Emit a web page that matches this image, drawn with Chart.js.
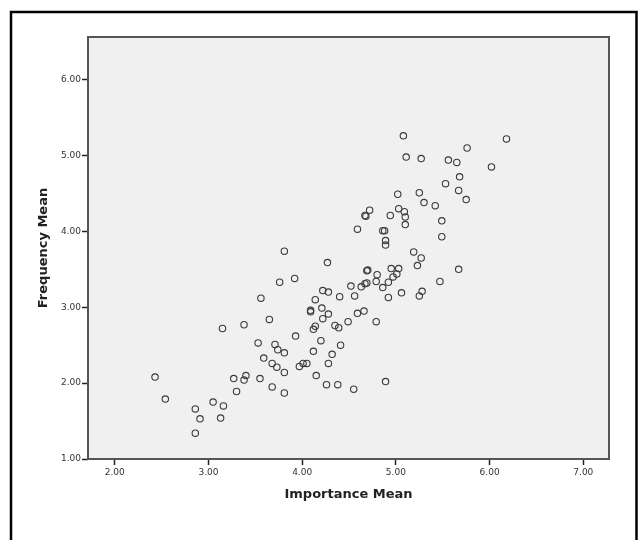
<!DOCTYPE html>
<html>
<head>
<meta charset="utf-8">
<script src="https://cdn.jsdelivr.net/npm/chart.js@4/dist/chart.umd.min.js"></script>
<style>
    html, body { margin: 0; padding: 0; background: #ffffff; }
    #chart { display: block; }
</style>
</head>
<body>
<canvas id="chart" width="638" height="540"></canvas>
<script>
// values
const importanceMean = [
    5.08, 6.18, 5.76, 5.11, 5.27, 5.56, 5.65, 6.02, 5.68, 5.53,
    5.02, 5.25, 5.67, 5.75, 5.30, 5.42, 5.03, 4.72, 5.09, 4.67,
    4.68, 4.94, 5.10, 5.49, 5.10, 4.59, 4.86, 4.88, 5.49, 4.89,
    4.89, 3.81, 5.19, 5.27, 4.27, 5.23, 5.67, 4.69, 4.70, 4.95,
    5.03, 3.92, 3.76, 4.80, 5.01, 4.97, 5.47, 4.92, 4.79, 4.69,
    4.67, 4.63, 4.52, 4.86, 5.28, 4.22, 4.28, 5.06, 4.56, 4.40,
    5.25, 4.92, 3.56, 4.14, 4.21, 4.09, 4.09, 4.66, 4.59, 4.28,
    4.22, 3.65, 4.79, 4.49, 3.38, 4.35, 4.14, 4.39, 4.12, 3.15,
    3.93, 4.20, 3.53, 3.71, 4.41, 3.74, 3.81, 4.12, 4.32, 3.59,
    3.68, 4.01, 4.05, 4.28, 3.97, 3.73, 3.81, 3.40, 4.15, 2.43,
    3.27, 3.55, 3.38, 4.89, 4.26, 4.38, 3.68, 4.55, 3.30, 3.81,
    2.54, 3.05, 3.16, 2.86, 2.91, 3.13, 2.86
];

const frequencyMean = [
    5.26, 5.22, 5.10, 4.98, 4.96, 4.94, 4.91, 4.85, 4.72, 4.63,
    4.49, 4.51, 4.54, 4.42, 4.38, 4.34, 4.30, 4.28, 4.26, 4.21,
    4.20, 4.21, 4.19, 4.14, 4.09, 4.03, 4.01, 4.01, 3.93, 3.88,
    3.82, 3.74, 3.73, 3.65, 3.59, 3.55, 3.50, 3.48, 3.49, 3.51,
    3.51, 3.38, 3.33, 3.43, 3.44, 3.40, 3.34, 3.33, 3.34, 3.32,
    3.31, 3.27, 3.28, 3.26, 3.21, 3.22, 3.20, 3.19, 3.15, 3.14,
    3.15, 3.13, 3.12, 3.10, 2.99, 2.96, 2.94, 2.95, 2.92, 2.91,
    2.85, 2.84, 2.81, 2.81, 2.77, 2.76, 2.75, 2.73, 2.71, 2.72,
    2.62, 2.56, 2.53, 2.51, 2.50, 2.44, 2.40, 2.42, 2.38, 2.33,
    2.26, 2.26, 2.26, 2.26, 2.22, 2.21, 2.14, 2.10, 2.10, 2.08,
    2.06, 2.06, 2.04, 2.02, 1.98, 1.98, 1.95, 1.92, 1.89, 1.87,
    1.79, 1.75, 1.70, 1.66, 1.53, 1.54, 1.34
];

const xTicks = [2, 3, 4, 5, 6, 7];
const yTicks = [1, 2, 3, 4, 5, 6];

const points = importanceMean.map((x, i) => ({ x: x, y: frequencyMean[i] }));

// gray plot background + frame, and the outer black frame
const framePlugin = {
    id: "frame",
    beforeDraw(chart) {
        const { ctx, chartArea: a } = chart;
        ctx.save();
        ctx.fillStyle = "#f0f0f0";
        ctx.fillRect(a.left, a.top, a.right - a.left, a.bottom - a.top);
        ctx.restore();
    },
    afterDraw(chart) {
        const { ctx, chartArea: a } = chart;
        ctx.save();
        ctx.strokeStyle = "#555";
        ctx.lineWidth = 2;
        ctx.strokeRect(a.left, a.top, a.right - a.left, a.bottom - a.top);

        ctx.strokeStyle = "#000";
        ctx.lineWidth = 2.5;
        ctx.beginPath();
        ctx.moveTo(11, 560);
        ctx.lineTo(11, 12);
        ctx.lineTo(636.5, 12);
        ctx.lineTo(636.5, 560);
        ctx.stroke();
        ctx.restore();
    }
};

const tickFont = { family: "DejaVu Sans", size: 9 };
const titleFont = { family: "DejaVu Sans", size: 13, weight: "bold" };

new Chart(document.getElementById("chart"), {
    type: "scatter",

    data: {
        datasets: [
            {
                data: points,
                pointRadius: 3.2,
                pointHoverRadius: 3.2,
                pointBorderWidth: 1.1,
                borderColor: "#3a3a3a",
                backgroundColor: "rgba(0,0,0,0)"
            }
        ]
    },

    options: {
        responsive: false,
        devicePixelRatio: 1,
        animation: false,

        layout: {
            padding: { left: 0, top: 37, right: 29, bottom: 0 }
        },

        plugins: {
            legend: { display: false },
            tooltip: { enabled: false }
        },

        scales: {
            x: {
                type: "linear",
                min: 1.715,
                max: 7.274,
                afterBuildTicks: (scale) => {
                    scale.ticks = xTicks.map(v => ({ value: v }));
                },
                afterFit: (scale) => {
                    scale.height = 81;
                },
                ticks: {
                    font: tickFont,
                    color: "#333",
                    padding: 2,
                    maxRotation: 0,
                    callback: (v) => Number(v).toFixed(2)
                },
                grid: {
                    drawOnChartArea: false,
                    drawTicks: true,
                    tickLength: 6,
                    tickWidth: 1.5,
                    tickColor: "#222"
                },
                border: { display: false },
                title: {
                    display: true,
                    text: "Importance Mean",
                    font: titleFont,
                    color: "#222",
                    padding: { top: 0, bottom: 38 }
                }
            },

            y: {
                type: "linear",
                min: 1,
                max: 6.563,
                afterBuildTicks: (scale) => {
                    scale.ticks = yTicks.map(v => ({ value: v }));
                },
                afterFit: (scale) => {
                    scale.width = 88;
                },
                ticks: {
                    font: tickFont,
                    color: "#333",
                    padding: 1,
                    callback: (v) => Number(v).toFixed(2)
                },
                grid: {
                    drawOnChartArea: false,
                    drawTicks: true,
                    tickLength: 6,
                    tickWidth: 1.5,
                    tickColor: "#222"
                },
                border: { display: false },
                title: {
                    display: true,
                    text: "Frequency Mean",
                    font: titleFont,
                    color: "#222",
                    padding: { top: 36, bottom: 0 }
                }
            }
        }
    },

    plugins: [framePlugin]
});
</script>
</body>
</html>
